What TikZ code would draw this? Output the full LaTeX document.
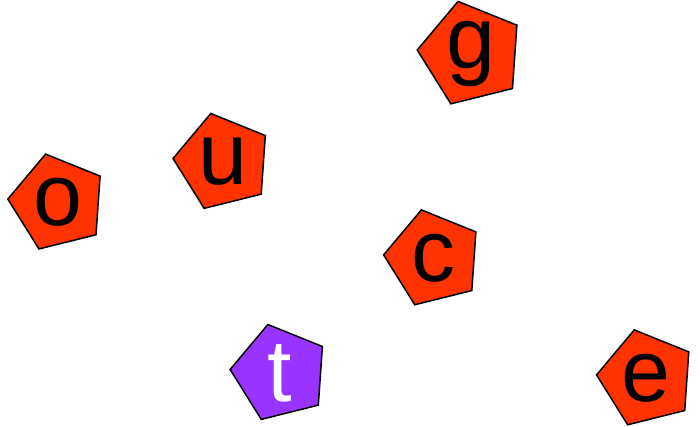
\documentclass[tikz,border=0pt]{standalone}
\usepackage{fontspec}
\setmainfont{Liberation Sans}
\usetikzlibrary{shapes.geometric}
\definecolor{pentred}{HTML}{FF3300}
\definecolor{pentpurple}{HTML}{9933FF}
\tikzset{
  pent/.style={regular polygon, regular polygon sides=5, shape border rotate=14,
    inner sep=0pt, minimum size=100pt, draw=black, line width=1.5pt, fill=pentred},
  bigpent/.style={pent, minimum size=108pt},
  purplepent/.style={pent, fill=pentpurple},
  lbl/.style={inner sep=0pt, font=\fontsize{88}{88}\selectfont, text=black},
  wlbl/.style={lbl, text=white}
}
\begin{document}
\begin{tikzpicture}[x=1pt,y=-1pt]
\useasboundingbox (0,0) rectangle (700,426);
\node[pent] (o) at (57.7,202.6) {};
\node[lbl] (ot) at (o) {o};
\node[pent] (u) at (222.9,162) {};
\node[lbl] (ut) at (u) {u};
\node[bigpent] (g) at (471.1,53.8) {};
\node[lbl] (gt) at (g) {g};
\node[pent] (c) at (433.5,258.4) {};
\node[lbl] (ct) at (c) {c};
\node[purplepent] (t) at (280,373) {};
\node[wlbl] (tt) at (t) {t};
\node[pent] (e) at (646.4,378.4) {};
\node[lbl] (et) at (e) {e};
\end{tikzpicture}
\end{document}
